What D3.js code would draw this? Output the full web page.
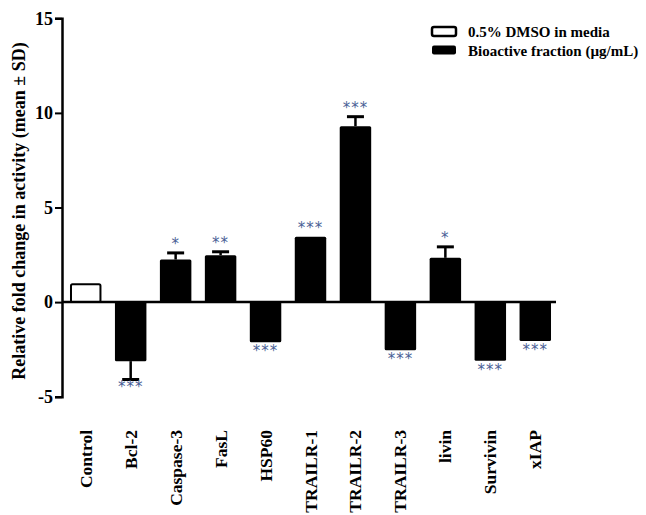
<!DOCTYPE html>
<html>
<head>
<meta charset="utf-8">
<script src="https://cdn.jsdelivr.net/npm/d3@7/dist/d3.min.js"></script>
<style>
  html, body { margin: 0; padding: 0; background: #fff; }
  svg { display: block; }
  text { font-family: "Liberation Serif", "Times New Roman", serif; font-weight: bold; }
</style>
</head>
<body>
<svg id="chart" width="646" height="515"></svg>
<script>
// ---- data ----
const categories = ["Control", "Bcl-2", "Caspase-3", "FasL", "HSP60", "TRAILR-1", "TRAILR-2", "TRAILR-3", "livin", "Survivin", "xIAP"];
const values = [1.0, -3.12, 2.25, 2.48, -2.12, 3.45, 9.3, -2.55, 2.34, -3.1, -2.05];
const sdValues = [0, 0.97, 0.35, 0.18, 0.05, 0.0, 0.5, 0.05, 0.58, 0.08, 0.06];
const significance = ["", "***", "*", "**", "***", "***", "***", "***", "*", "***", "***"];
const groupOf = ["control", "treated", "treated", "treated", "treated", "treated", "treated", "treated", "treated", "treated", "treated"];
const yTicks = [-5, 0, 5, 10, 15];
const legendLabels = ["0.5% DMSO in media", "Bioactive fraction (\u00b5g/mL)"];
const yTitle = "Relative fold change in activity (mean \u00b1 SD)";

// ---- layout ----
const svg = d3.select("#chart");
const yAxisX = 62;
const xAxisEnd = 556;

const y = d3.scaleLinear().domain([-5, 15]).range([396.7, 18.3]);
const x = d3.scaleBand().domain(categories).range([61, 560]).paddingInner(0.3).paddingOuter(0.2);

const data = categories.map((c, i) => ({ cat: c, v: values[i], sd: sdValues[i], sig: significance[i], g: groupOf[i] }));

// bars
svg.append("g").selectAll("rect").data(data).join("rect")
  .attr("x", d => x(d.cat) + (d.g === "control" ? 1 : 0))
  .attr("width", d => x.bandwidth() - (d.g === "control" ? 2 : 0))
  .attr("y", d => y(Math.max(0, d.v)) + (d.g === "control" ? 1 : 0))
  .attr("height", d => Math.abs(y(d.v) - y(0)) - (d.g === "control" ? 1 : 0))
  .attr("rx", 1.5)
  .attr("fill", d => d.g === "control" ? "#fff" : "#000")
  .attr("stroke", d => d.g === "control" ? "#000" : "none")
  .attr("stroke-width", 2);

// error bars (one-sided, away from zero)
const eb = svg.append("g").selectAll("g").data(data.filter(d => d.sd > 0.15)).join("g");
eb.append("line")
  .attr("x1", d => x(d.cat) + x.bandwidth() / 2)
  .attr("x2", d => x(d.cat) + x.bandwidth() / 2)
  .attr("y1", d => y(d.v))
  .attr("y2", d => y(d.v + Math.sign(d.v) * d.sd))
  .attr("stroke", "#000").attr("stroke-width", 2.5);
eb.append("line")
  .attr("x1", d => x(d.cat) + x.bandwidth() / 2 - 8.5)
  .attr("x2", d => x(d.cat) + x.bandwidth() / 2 + 8.5)
  .attr("y1", d => y(d.v + Math.sign(d.v) * d.sd))
  .attr("y2", d => y(d.v + Math.sign(d.v) * d.sd))
  .attr("stroke", "#000").attr("stroke-width", 3);

// significance stars
svg.append("g").selectAll("text").data(data.filter(d => d.sig)).join("text")
  .attr("x", d => x(d.cat) + x.bandwidth() / 2)
  .attr("y", d => {
    const end = d.v + Math.sign(d.v) * d.sd;
    return d.v > 0 ? y(end) - 4 : y(end) + 13;
  })
  .attr("text-anchor", "middle")
  .attr("font-size", 15)
  .attr("letter-spacing", 1)
  .attr("fill", "#4a5f96")
  .style("font-family", "'DejaVu Sans', sans-serif")
  .style("font-weight", "normal")
  .text(d => d.sig);

// y axis
const yAxis = d3.axisLeft(y).tickValues(yTicks).tickSize(7).tickPadding(2).tickFormat(d => String(d));
const gy = svg.append("g").attr("transform", `translate(${yAxisX},0)`).call(yAxis);
gy.select(".domain").attr("stroke-width", 2.5);
gy.selectAll(".tick line").attr("stroke-width", 2);
gy.selectAll(".tick text").attr("font-size", 18).attr("fill", "#000")
  .style("font-family", "'Liberation Serif', serif").style("font-weight", "bold");

// x axis line at zero
svg.append("line")
  .attr("x1", yAxisX).attr("x2", xAxisEnd)
  .attr("y1", y(0)).attr("y2", y(0))
  .attr("stroke", "#000").attr("stroke-width", 2.5);

// category labels
svg.append("g").selectAll("text").data(categories).join("text")
  .attr("transform", d => `translate(${x(d) + x.bandwidth() / 2},430) rotate(-90)`)
  .attr("text-anchor", "end")
  .attr("dominant-baseline", "central")
  .attr("font-size", 17.5)
  .text(d => d);

// y title
svg.append("text")
  .attr("transform", "translate(19,211) rotate(-90)")
  .attr("text-anchor", "middle")
  .attr("dominant-baseline", "central")
  .attr("font-size", 18)
  .text(yTitle);

// legend
const lg = svg.append("g").attr("transform", "translate(432,27)");
const li = lg.selectAll("g").data(legendLabels).join("g")
  .attr("transform", (d, i) => `translate(0,${i * 18.5})`);
li.append("rect")
  .attr("x", 0).attr("y", 0).attr("width", 24).attr("height", 9).attr("rx", 2)
  .attr("fill", (d, i) => i === 0 ? "#fff" : "#000")
  .attr("stroke", "#000").attr("stroke-width", (d, i) => i === 0 ? 2.5 : 0);
li.append("text")
  .attr("x", 36).attr("y", 5)
  .attr("dominant-baseline", "central")
  .attr("font-size", 15)
  .text(d => d);
</script>
</body>
</html>
